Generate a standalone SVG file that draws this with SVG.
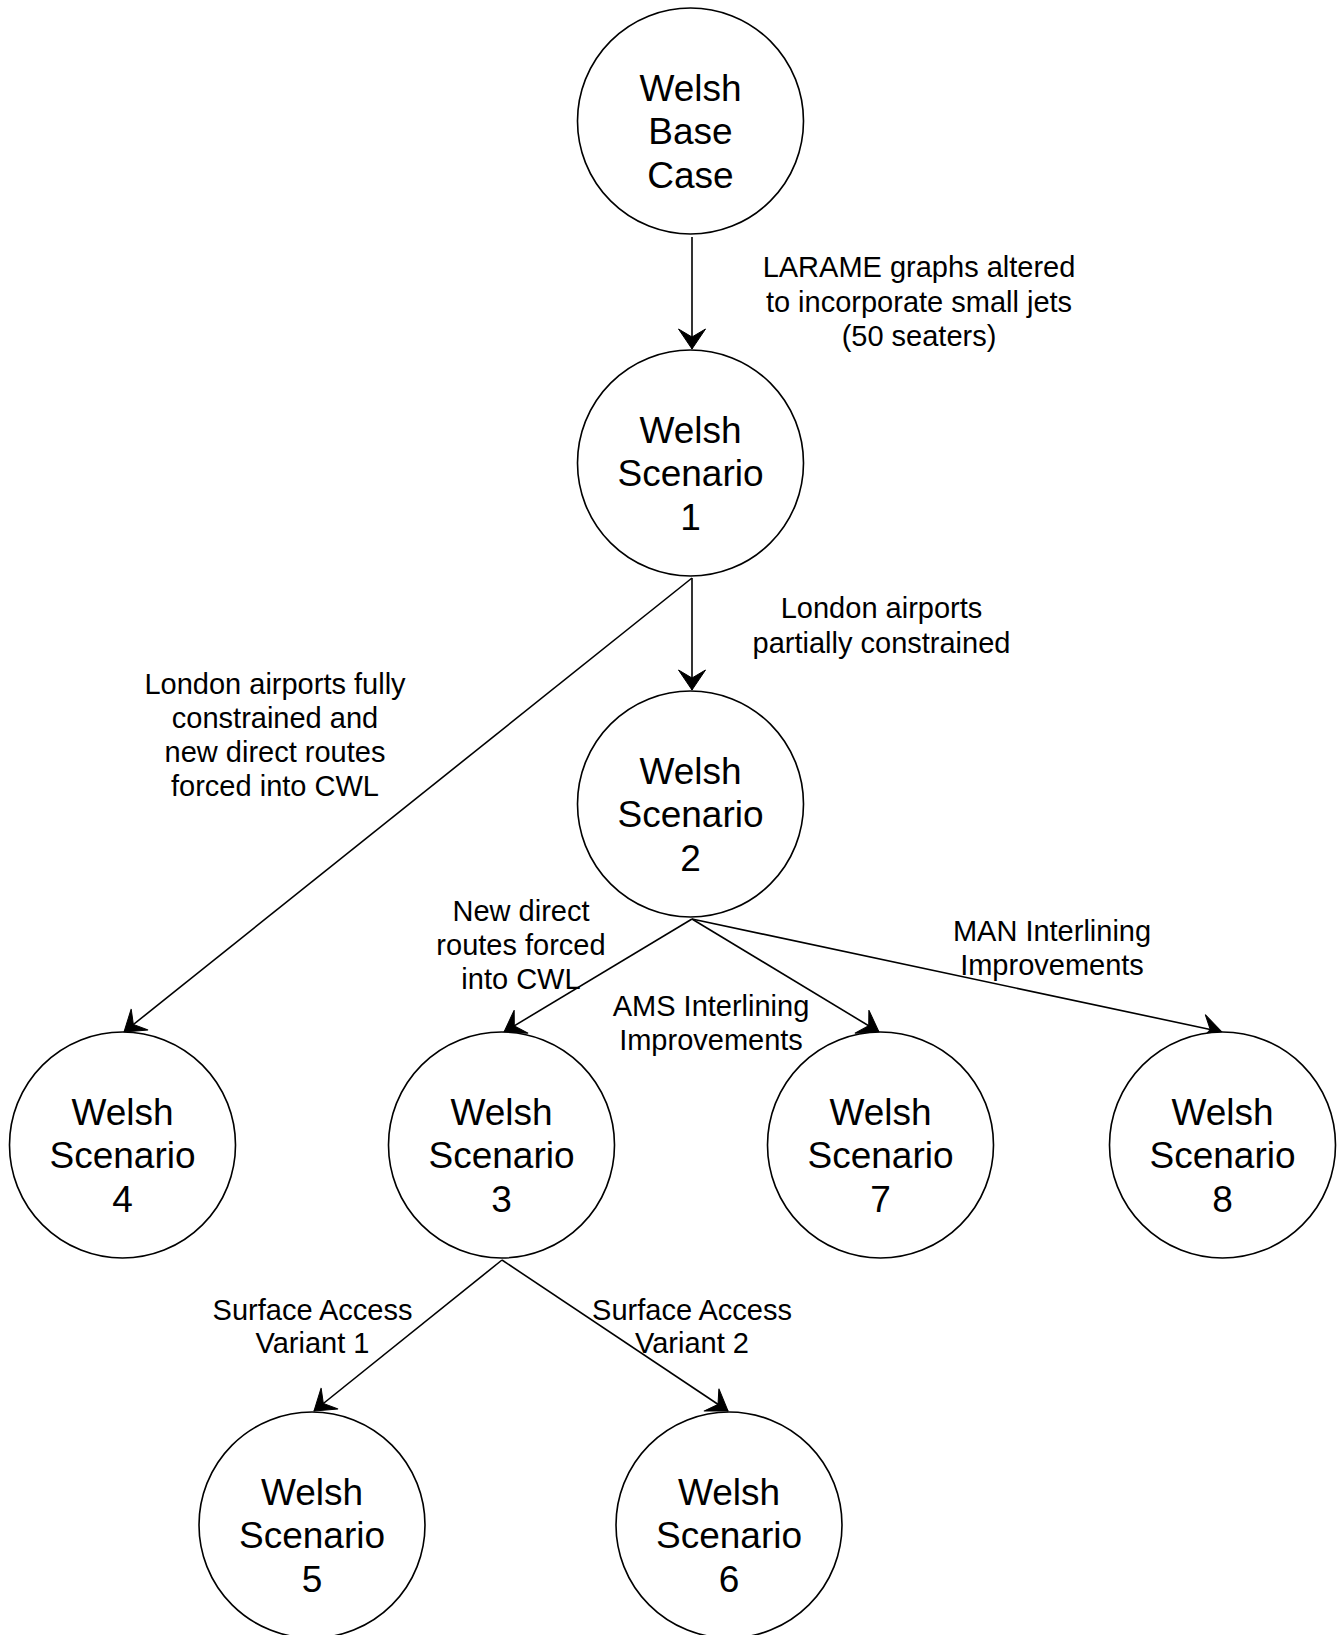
<svg xmlns="http://www.w3.org/2000/svg" width="1344" height="1635" viewBox="0 0 1344 1635">
  <style>
    .node circle { fill: #ffffff; stroke: #000000; stroke-width: 1.6; }
    .node text { font-family: "Liberation Sans", Arial, sans-serif; font-size: 37px; fill: #000000; text-anchor: middle; }
    .edge { fill: none; stroke: #000000; stroke-width: 1.6; marker-end: url(#arrow); }
    .label { font-family: "Liberation Sans", Arial, sans-serif; font-size: 29px; fill: #000000; text-anchor: middle; }
  </style>
  <defs>
    <marker id="arrow" markerUnits="userSpaceOnUse" markerWidth="24" markerHeight="30" viewBox="-22 -15 24 30" refX="0" refY="0" orient="auto">
      <path d="M0,0 L-20,-13.5 L-12,0 L-20,13.5 Z" fill="#000000" stroke="#000000" stroke-width="1" stroke-linejoin="miter"/>
    </marker>
  </defs>
  <rect x="0" y="0" width="1344" height="1635" fill="#ffffff"/>

  <g id="connectors">
    <path class="edge" d="M692,237 L692,349"/>
    <path class="edge" d="M692,578 L692,690"/>
    <path class="edge" d="M692,578 L124,1032"/>
    <path class="edge" d="M692,919 L504,1032"/>
    <path class="edge" d="M692,919 L879,1032"/>
    <path class="edge" d="M692,919 L1222,1032"/>
    <path class="edge" d="M502,1260 L314,1411"/>
    <path class="edge" d="M502,1260 L728,1411"/>
  </g>

  <g id="edge-labels">
    <text class="label" x="919" y="277">LARAME graphs altered</text>
    <text class="label" x="919" y="311.5">to incorporate small jets</text>
    <text class="label" x="919" y="346">(50 seaters)</text>

    <text class="label" x="881.5" y="618">London airports</text>
    <text class="label" x="881.5" y="653">partially constrained</text>

    <text class="label" x="275" y="694">London airports fully</text>
    <text class="label" x="275" y="728">constrained and</text>
    <text class="label" x="275" y="762">new direct routes</text>
    <text class="label" x="275" y="796">forced into CWL</text>

    <text class="label" x="521" y="921">New direct</text>
    <text class="label" x="521" y="955">routes forced</text>
    <text class="label" x="521" y="989">into CWL</text>

    <text class="label" x="711" y="1016">AMS Interlining</text>
    <text class="label" x="711" y="1050">Improvements</text>

    <text class="label" x="1052" y="941">MAN Interlining</text>
    <text class="label" x="1052" y="975">Improvements</text>

    <text class="label" x="312.5" y="1319.5">Surface Access</text>
    <text class="label" x="312.5" y="1353">Variant 1</text>

    <text class="label" x="692" y="1319.5">Surface Access</text>
    <text class="label" x="692" y="1353">Variant 2</text>
  </g>

  <g id="node-base" class="node">
    <circle cx="690.5" cy="121" r="113"/>
    <text x="690.5" y="101">Welsh</text>
    <text x="690.5" y="144.3">Base</text>
    <text x="690.5" y="187.6">Case</text>
  </g>
  <g id="node-s1" class="node">
    <circle cx="690.5" cy="463" r="113"/>
    <text x="690.5" y="443">Welsh</text>
    <text x="690.5" y="486.3">Scenario</text>
    <text x="690.5" y="529.6">1</text>
  </g>
  <g id="node-s2" class="node">
    <circle cx="690.5" cy="804" r="113"/>
    <text x="690.5" y="784">Welsh</text>
    <text x="690.5" y="827.3">Scenario</text>
    <text x="690.5" y="870.6">2</text>
  </g>
  <g id="node-s4" class="node">
    <circle cx="122.5" cy="1145" r="113"/>
    <text x="122.5" y="1125">Welsh</text>
    <text x="122.5" y="1168.3">Scenario</text>
    <text x="122.5" y="1211.6">4</text>
  </g>
  <g id="node-s3" class="node">
    <circle cx="501.5" cy="1145" r="113"/>
    <text x="501.5" y="1125">Welsh</text>
    <text x="501.5" y="1168.3">Scenario</text>
    <text x="501.5" y="1211.6">3</text>
  </g>
  <g id="node-s7" class="node">
    <circle cx="880.5" cy="1145" r="113"/>
    <text x="880.5" y="1125">Welsh</text>
    <text x="880.5" y="1168.3">Scenario</text>
    <text x="880.5" y="1211.6">7</text>
  </g>
  <g id="node-s8" class="node">
    <circle cx="1222.5" cy="1145" r="113"/>
    <text x="1222.5" y="1125">Welsh</text>
    <text x="1222.5" y="1168.3">Scenario</text>
    <text x="1222.5" y="1211.6">8</text>
  </g>
  <g id="node-s5" class="node">
    <circle cx="312" cy="1525" r="113"/>
    <text x="312" y="1505">Welsh</text>
    <text x="312" y="1548.3">Scenario</text>
    <text x="312" y="1591.6">5</text>
  </g>
  <g id="node-s6" class="node">
    <circle cx="729" cy="1525" r="113"/>
    <text x="729" y="1505">Welsh</text>
    <text x="729" y="1548.3">Scenario</text>
    <text x="729" y="1591.6">6</text>
  </g>
</svg>
